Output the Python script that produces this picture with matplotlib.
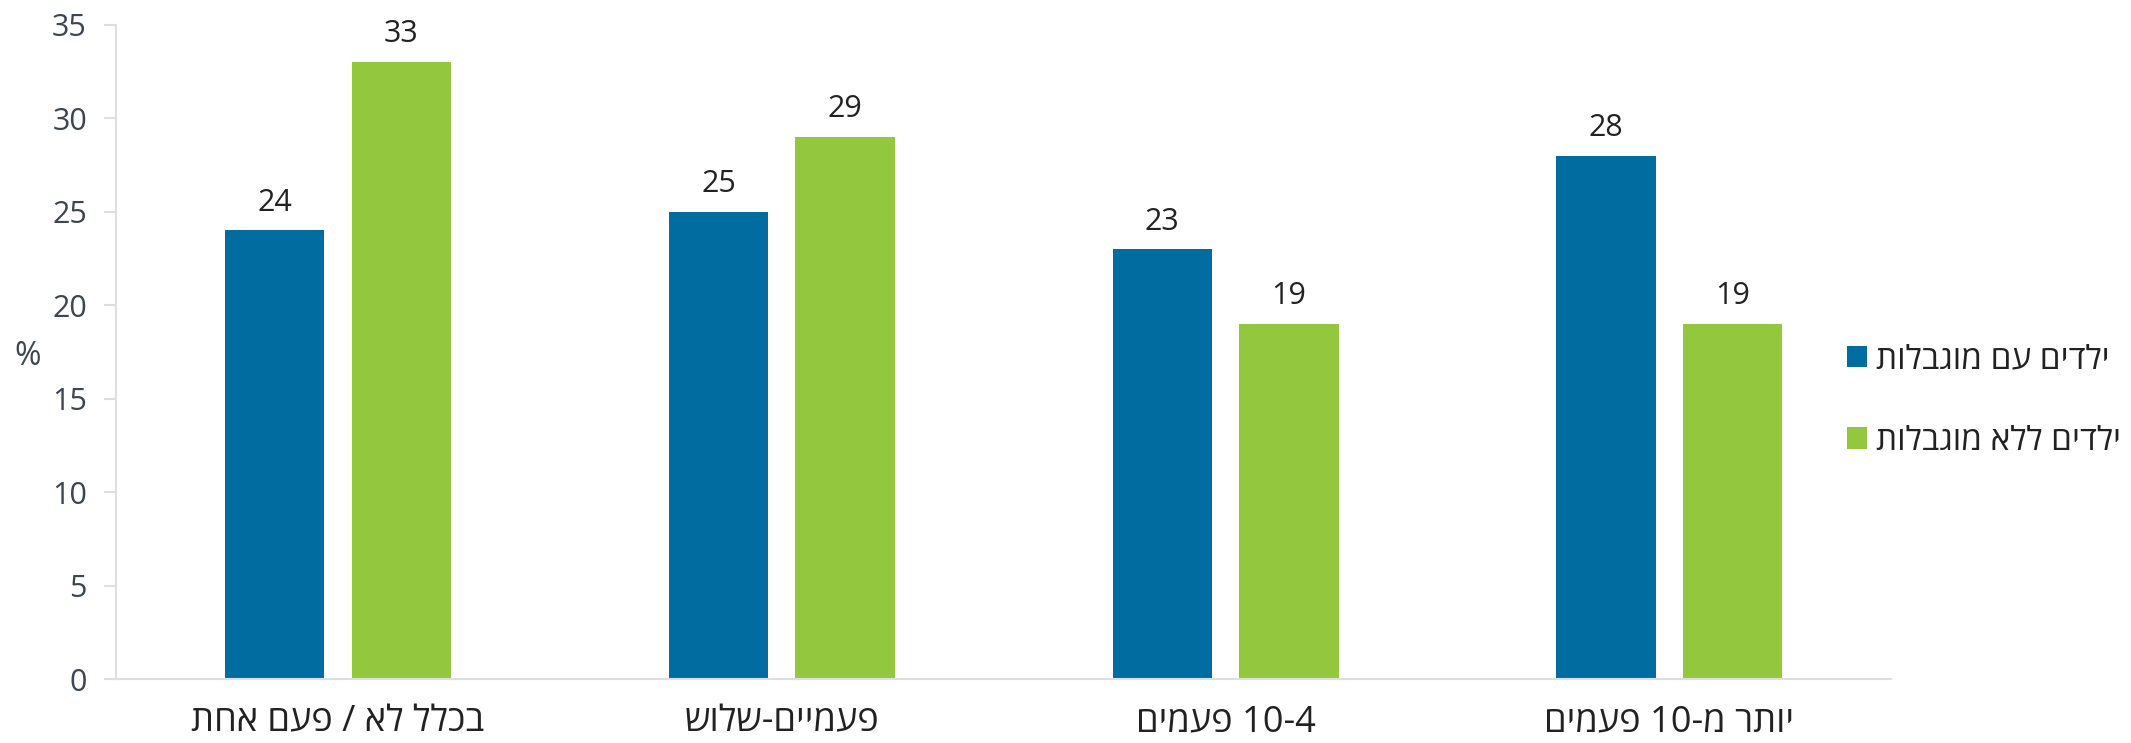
import matplotlib
matplotlib.use("Agg")
import matplotlib.pyplot as plt
import numpy as np

plt.rcParams['font.family'] = ['Open Sans', 'DejaVu Sans']

# Data (logical Hebrew text)
categories = ["בכלל לא / פעם אחת", "פעמיים-שלוש", "10-4 פעמים", "יותר מ-10 פעמים"]
# visual (left-to-right) forms for rendering
categories_visual = ["תחא םעפ / אל ללכב", "שולש-םיימעפ", "םימעפ 10-4", "םימעפ 10-מ רתוי"]
series_names = ["ילדים עם מוגבלות", "ילדים ללא מוגבלות"]
series_names_visual = ["תולבגומ םע םידלי", "תולבגומ אלל םידלי"]
with_disab = [24, 25, 23, 28]
without_disab = [33, 29, 19, 19]
yticks = [0, 5, 10, 15, 20, 25, 30, 35]

blue = "#006C9F"
green = "#93C83E"
text_col = "#3B4650"
axis_col = "#DCDFE3"

fig = plt.figure(figsize=(21.31, 7.43), dpi=100)
ax = fig.add_axes([0.0545, 0.0855, 0.833, 0.8815])

x = np.arange(len(categories))
w = 0.224
off = 0.1425
b1 = ax.bar(x - off, with_disab, w, color=blue, label=series_names_visual[0])
b2 = ax.bar(x + off, without_disab, w, color=green, label=series_names_visual[1])

for bars, vals in ((b1, with_disab), (b2, without_disab)):
    for r, v in zip(bars, vals):
        ax.annotate(str(v), (r.get_x() + r.get_width() / 2, v), xytext=(0, 9),
                    textcoords="offset points", ha="center", va="bottom",
                    fontsize=22, color="#222222")

ax.set_xlim(-0.5, 3.5)
ax.set_ylim(0, 35)
ax.set_yticks(yticks)
ax.set_yticklabels([str(t) for t in yticks], fontsize=22, color=text_col)
ax.set_xticks(x)
ax.set_xticklabels(categories_visual, fontsize=26, color="#222222")
ax.tick_params(axis='x', length=0, pad=18)
ax.tick_params(axis='y', length=9, color=axis_col, width=1.5, pad=12)

for s in ("top", "right"):
    ax.spines[s].set_visible(False)
for s in ("left", "bottom"):
    ax.spines[s].set_color(axis_col)
    ax.spines[s].set_linewidth(1.5)

ax.set_ylabel("%", rotation=0, fontsize=23, color=text_col, labelpad=0,
              ha="center", va="center")
ax.yaxis.set_label_coords(-0.05, 0.493)

fig.legend(handles=[b1, b2], labels=series_names_visual, loc="center left",
           bbox_to_anchor=(0.8635, 0.461), frameon=False, fontsize=24,
           handlelength=0.62, handleheight=0.62, handletextpad=0.25,
           labelspacing=1.45, labelcolor="#222222", borderaxespad=0, borderpad=0.2)

fig.savefig("out.png", dpi=100)
